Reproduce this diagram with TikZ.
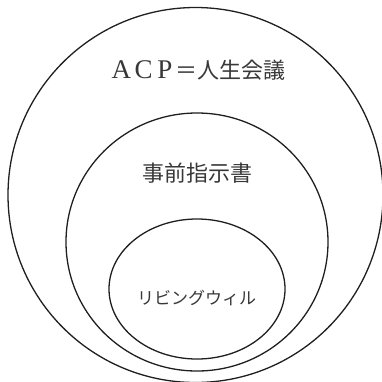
\documentclass[tikz,border=0pt]{standalone}
\usepackage{fontspec}
\newfontfamily\cjk{Noto Sans CJK JP}
\newfontfamily\latinserif{Liberation Serif}
\usetikzlibrary{shapes.geometric}
\begin{document}
\begin{tikzpicture}[x=1pt,y=-1pt,
  ring/.style={draw=black!88, line width=1.3pt, ellipse, inner sep=0pt},
  lbl/.style={text=black!78, inner sep=0pt}]
\useasboundingbox (0,0) rectangle (382,381);
\node[ring, minimum width=375pt, minimum height=375pt] (outer) at (195.5,195) {};
\node[ring, minimum width=262pt, minimum height=258pt] (middle) at (197,242) {};
\node[ring, minimum width=176pt, minimum height=140pt] (inner) at (197,289) {};
\node[lbl, font=\fontsize{22}{26}\selectfont] (acp) at (197.5,70)
  {{\latinserif\fontsize{27}{30}\selectfont\makebox[22.5pt]{A}\makebox[22.5pt]{C}\makebox[20pt]{P}}\cjk ＝人生会議};
\node[lbl, font=\fontsize{22}{26}\selectfont\cjk] (adv) at (197.5,173) {事前指示書};
\node[lbl, font=\fontsize{17}{20}\selectfont\cjk] (lw) at (196.5,298) {リビングウィル};
\end{tikzpicture}
\end{document}
